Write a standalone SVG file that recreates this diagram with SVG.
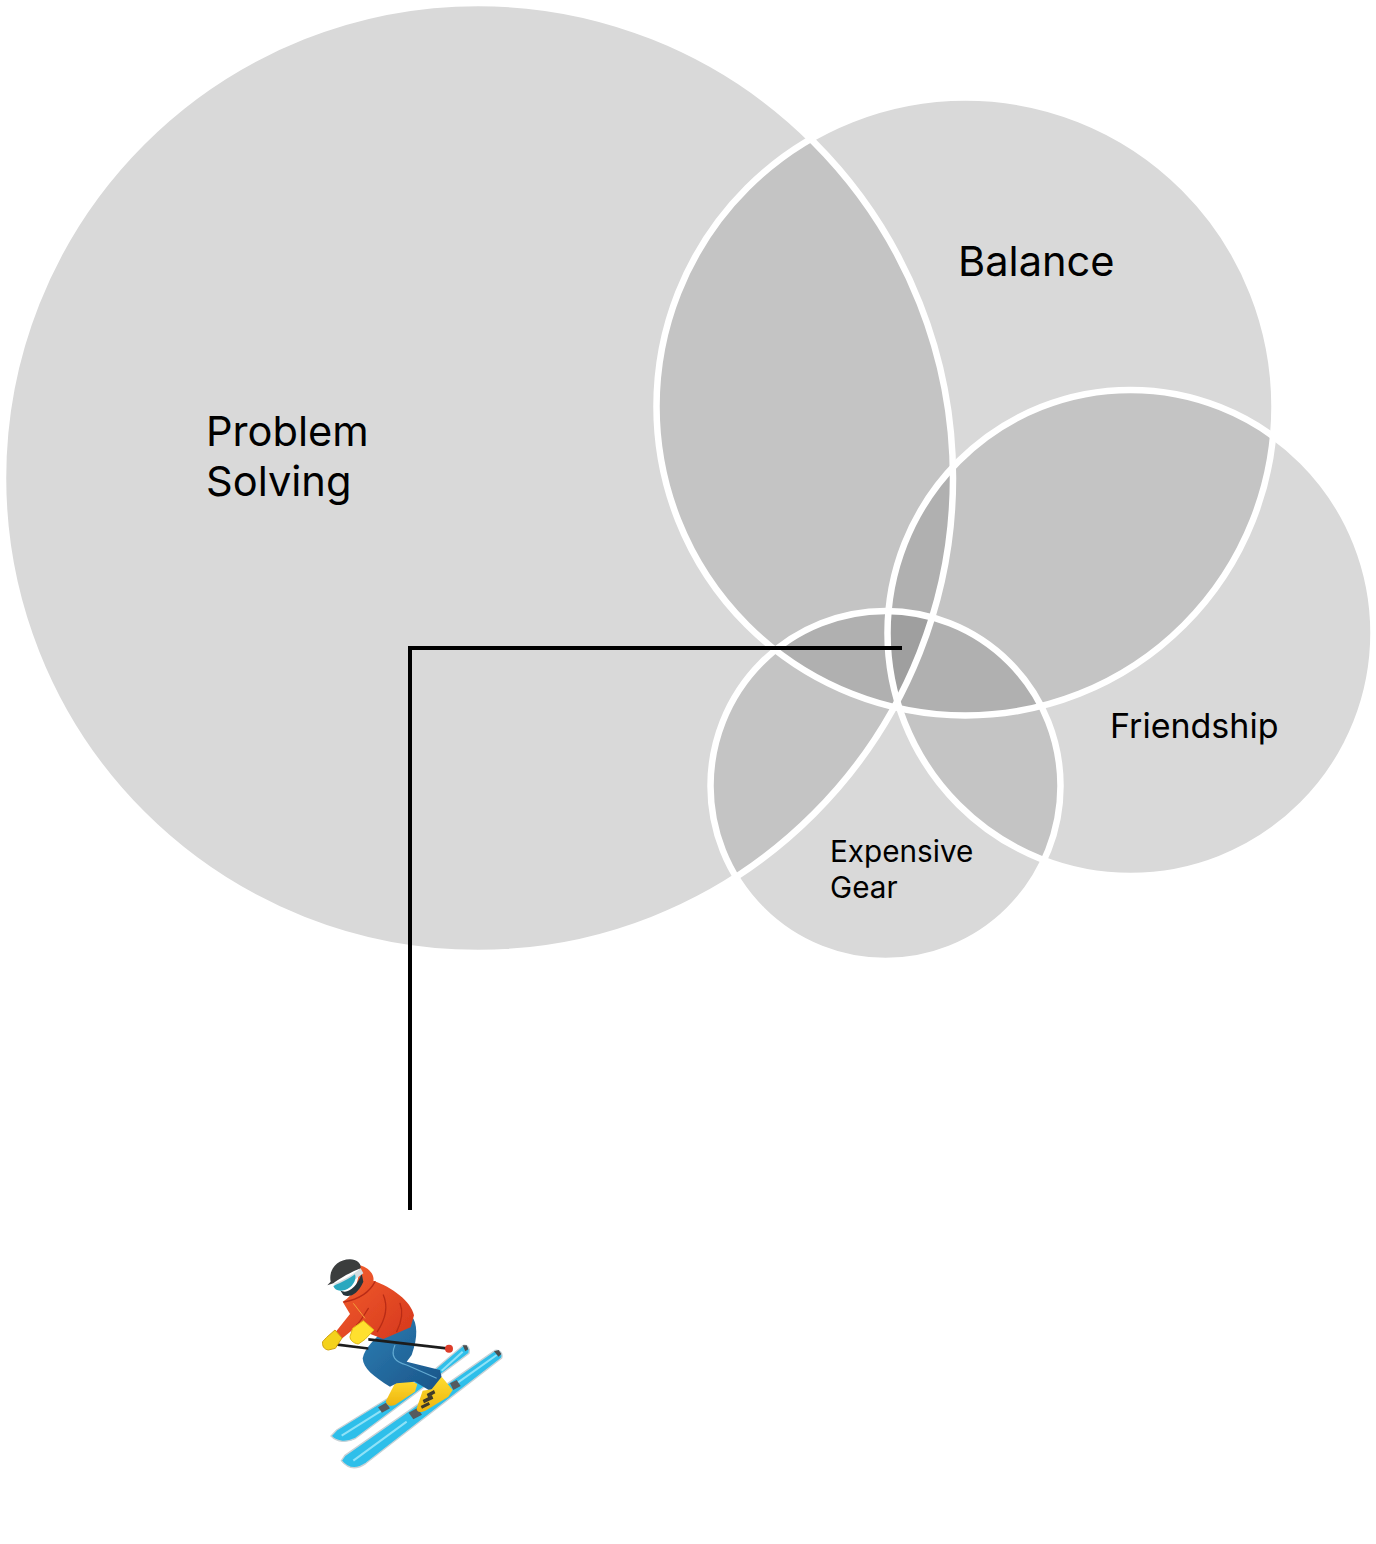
<svg xmlns="http://www.w3.org/2000/svg" width="1376" height="1544" viewBox="0 0 1376 1544">
<style>
.base{fill:#d9d9d9}
.two{fill:#c4c4c4}
.three{fill:#b0b0b0}
.four{fill:#9f9f9f}
.ring{fill:none;stroke:#fff;stroke-width:6.500}
.label{font-family:Inter,"Liberation Sans",sans-serif;fill:#000}
.conn{fill:none;stroke:#000;stroke-width:4}
.seam{fill:none;stroke:#b92c15;stroke-width:4;stroke-linecap:round}
</style>
<defs>
<clipPath id="cA"><circle cx="478" cy="478" r="475"/></clipPath>
<clipPath id="cB"><circle cx="965.500" cy="406.500" r="309"/></clipPath>
<clipPath id="cF"><circle cx="1130.500" cy="633" r="243"/></clipPath>
<clipPath id="cG"><circle cx="885.500" cy="786" r="175"/></clipPath>
<linearGradient id="jacket" x1="0" y1="0" x2="1" y2="1"><stop offset="0" stop-color="#f4602f"/><stop offset="1" stop-color="#d5371c"/></linearGradient>
<linearGradient id="pants" x1="0" y1="0" x2="1" y2="1"><stop offset="0" stop-color="#2d7fb4"/><stop offset="1" stop-color="#1a5488"/></linearGradient>
<linearGradient id="boot" x1="0" y1="0" x2="0" y2="1"><stop offset="0" stop-color="#ffdc30"/><stop offset="1" stop-color="#eeb40e"/></linearGradient>
<filter id="soft" x="-5%" y="-5%" width="110%" height="110%"><feGaussianBlur stdDeviation="1.8"/></filter>
</defs>
<g id="venn-fills">
<circle class="base" cx="478" cy="478" r="475"/>
<circle class="base" cx="965.500" cy="406.500" r="309"/>
<circle class="base" cx="1130.500" cy="633" r="243"/>
<circle class="base" cx="885.500" cy="786" r="175"/>
<g class="two">
<g clip-path="url(#cA)"><circle cx="965.500" cy="406.500" r="309"/><circle cx="885.500" cy="786" r="175"/></g>
<g clip-path="url(#cB)"><circle cx="1130.500" cy="633" r="243"/></g>
<g clip-path="url(#cF)"><circle cx="885.500" cy="786" r="175"/></g>
</g>
<g class="three">
<g clip-path="url(#cA)"><g clip-path="url(#cB)"><circle cx="1130.500" cy="633" r="243"/><circle cx="885.500" cy="786" r="175"/></g></g>
<g clip-path="url(#cB)"><g clip-path="url(#cF)"><circle cx="885.500" cy="786" r="175"/></g></g>
</g>
<g class="four"><g clip-path="url(#cA)"><g clip-path="url(#cB)"><g clip-path="url(#cF)"><circle cx="885.500" cy="786" r="175"/></g></g></g></g>
</g>
<g id="node-problem-solving"><circle class="ring" cx="478" cy="478" r="475"/><text class="label" font-size="41.6" x="206" y="446">Problem</text><text class="label" font-size="41.6" x="206" y="496">Solving</text></g>
<g id="node-balance"><circle class="ring" cx="965.500" cy="406.500" r="309"/><text class="label" font-size="41.6" x="958" y="276">Balance</text></g>
<g id="node-friendship"><circle class="ring" cx="1130.500" cy="633" r="243"/><text class="label" font-size="34" x="1110" y="738">Friendship</text></g>
<g id="node-expensive-gear"><circle class="ring" cx="885.500" cy="786" r="175"/><text class="label" font-size="29.700" x="830" y="862">Expensive</text><text class="label" font-size="29.700" x="830" y="898">Gear</text></g>
<g id="connectors"><path class="conn" d="M902 648H410V1210"/></g>
<g id="skier" transform="translate(300 1240) scale(.33333)">
<g filter="url(#soft)">
<path fill="#2fbfea" stroke="#c9d2d6" stroke-width="4" d="M93 588C112 608 140 608 165 596L507 340C511 325 503 314 490 316L405 388 110 570Z"/>
<path fill="none" stroke="#8fe2f7" stroke-width="6" d="M125 587 260 502M425 392 488 335"/>
<path fill="#2fbfea" stroke="#c9d2d6" stroke-width="4" d="M124 662C145 688 172 688 198 670L605 354C610 340 598 328 585 331L135 646Z"/>
<path fill="none" stroke="#8fe2f7" stroke-width="6" d="M160 662 320 545M470 430 590 345"/>
<path fill="#4d4f50" d="M582 334 596 330 604 342 596 350Z"/>
<path fill="#4d4f50" d="M488 316 500 316 505 328 496 334Z"/>
<path fill="#555a5e" d="M234 502 258 488 270 505 246 518Z"/>
<path fill="#555a5e" d="M326 518 352 504 366 524 340 538Z"/>
<path fill="#555a5e" d="M450 430 470 420 482 438 460 450Z"/>
<path fill="url(#boot)" d="M258 482 285 430 320 418 352 432 345 455 285 495C270 500 258 495 258 482Z"/>
<path fill="url(#pants)" d="M335 228C352 250 355 290 335 345L320 365 420 390 428 425 390 452 345 425 290 430 270 440C220 410 190 385 188 355 195 320 225 300 250 270Z"/>
<path fill="none" stroke="#62aad2" stroke-width="3.500" d="M285 315C270 350 285 365 320 375L410 415"/>
<path fill="url(#boot)" d="M350 505 368 452 395 448 425 410 458 450 445 470 380 510C362 520 350 518 350 505Z"/>
<path fill="#3f3a2a" d="M380 462 402 450 406 460 384 472ZM368 480 396 466 400 476 372 490ZM362 498 386 486 390 494 366 506Z"/>
<path fill="url(#jacket)" d="M128 185C165 165 175 125 180 76 208 84 224 105 220 122 275 140 335 185 342 226L332 262 250 297 205 280 172 258 125 296 104 280 150 222Z"/>
<path class="seam" d="M225 125C205 165 165 180 132 186M170 255C185 240 195 220 205 205M250 165C265 200 255 240 232 275M300 190C310 215 305 245 290 275"/>
<path fill="none" stroke="#f2a23a" stroke-width="3" d="M160 190 195 235"/>
<path fill="#26343a" d="M120 150C140 165 170 145 185 100L190 125C175 160 150 175 130 165Z"/>
<path fill="#3a3c3e" d="M82 136 92 125C85 90 110 58 150 58 172 58 184 72 182 85 155 95 120 115 100 130Z"/>
<path fill="#d4dce0" d="M100 132C130 122 165 100 182 85L190 100 130 145Z"/>
<path fill="#29a8bf" d="M100 138C125 128 150 115 165 103 172 120 155 145 135 150 115 155 105 150 100 138Z"/>
<path fill="#1c1c1c" d="M106 309 205 322 205 329 106 317Z"/>
<path fill="#1c1c1c" d="M205 294 440 321 440 329 205 302Z"/>
<circle cx="447" cy="326" r="12" fill="#dd3c2a"/>
<path fill="#f4d21f" stroke="#cfa010" stroke-width="3" d="M68 305 80 292 105 270 126 294 106 325 85 330C72 328 66 318 68 305Z"/>
<path fill="#ffe02e" stroke="#e0b815" stroke-width="3" d="M150 290 158 265 190 242 222 270 195 298 175 312C160 310 150 300 150 290Z"/>
</g>
</g>
</svg>
